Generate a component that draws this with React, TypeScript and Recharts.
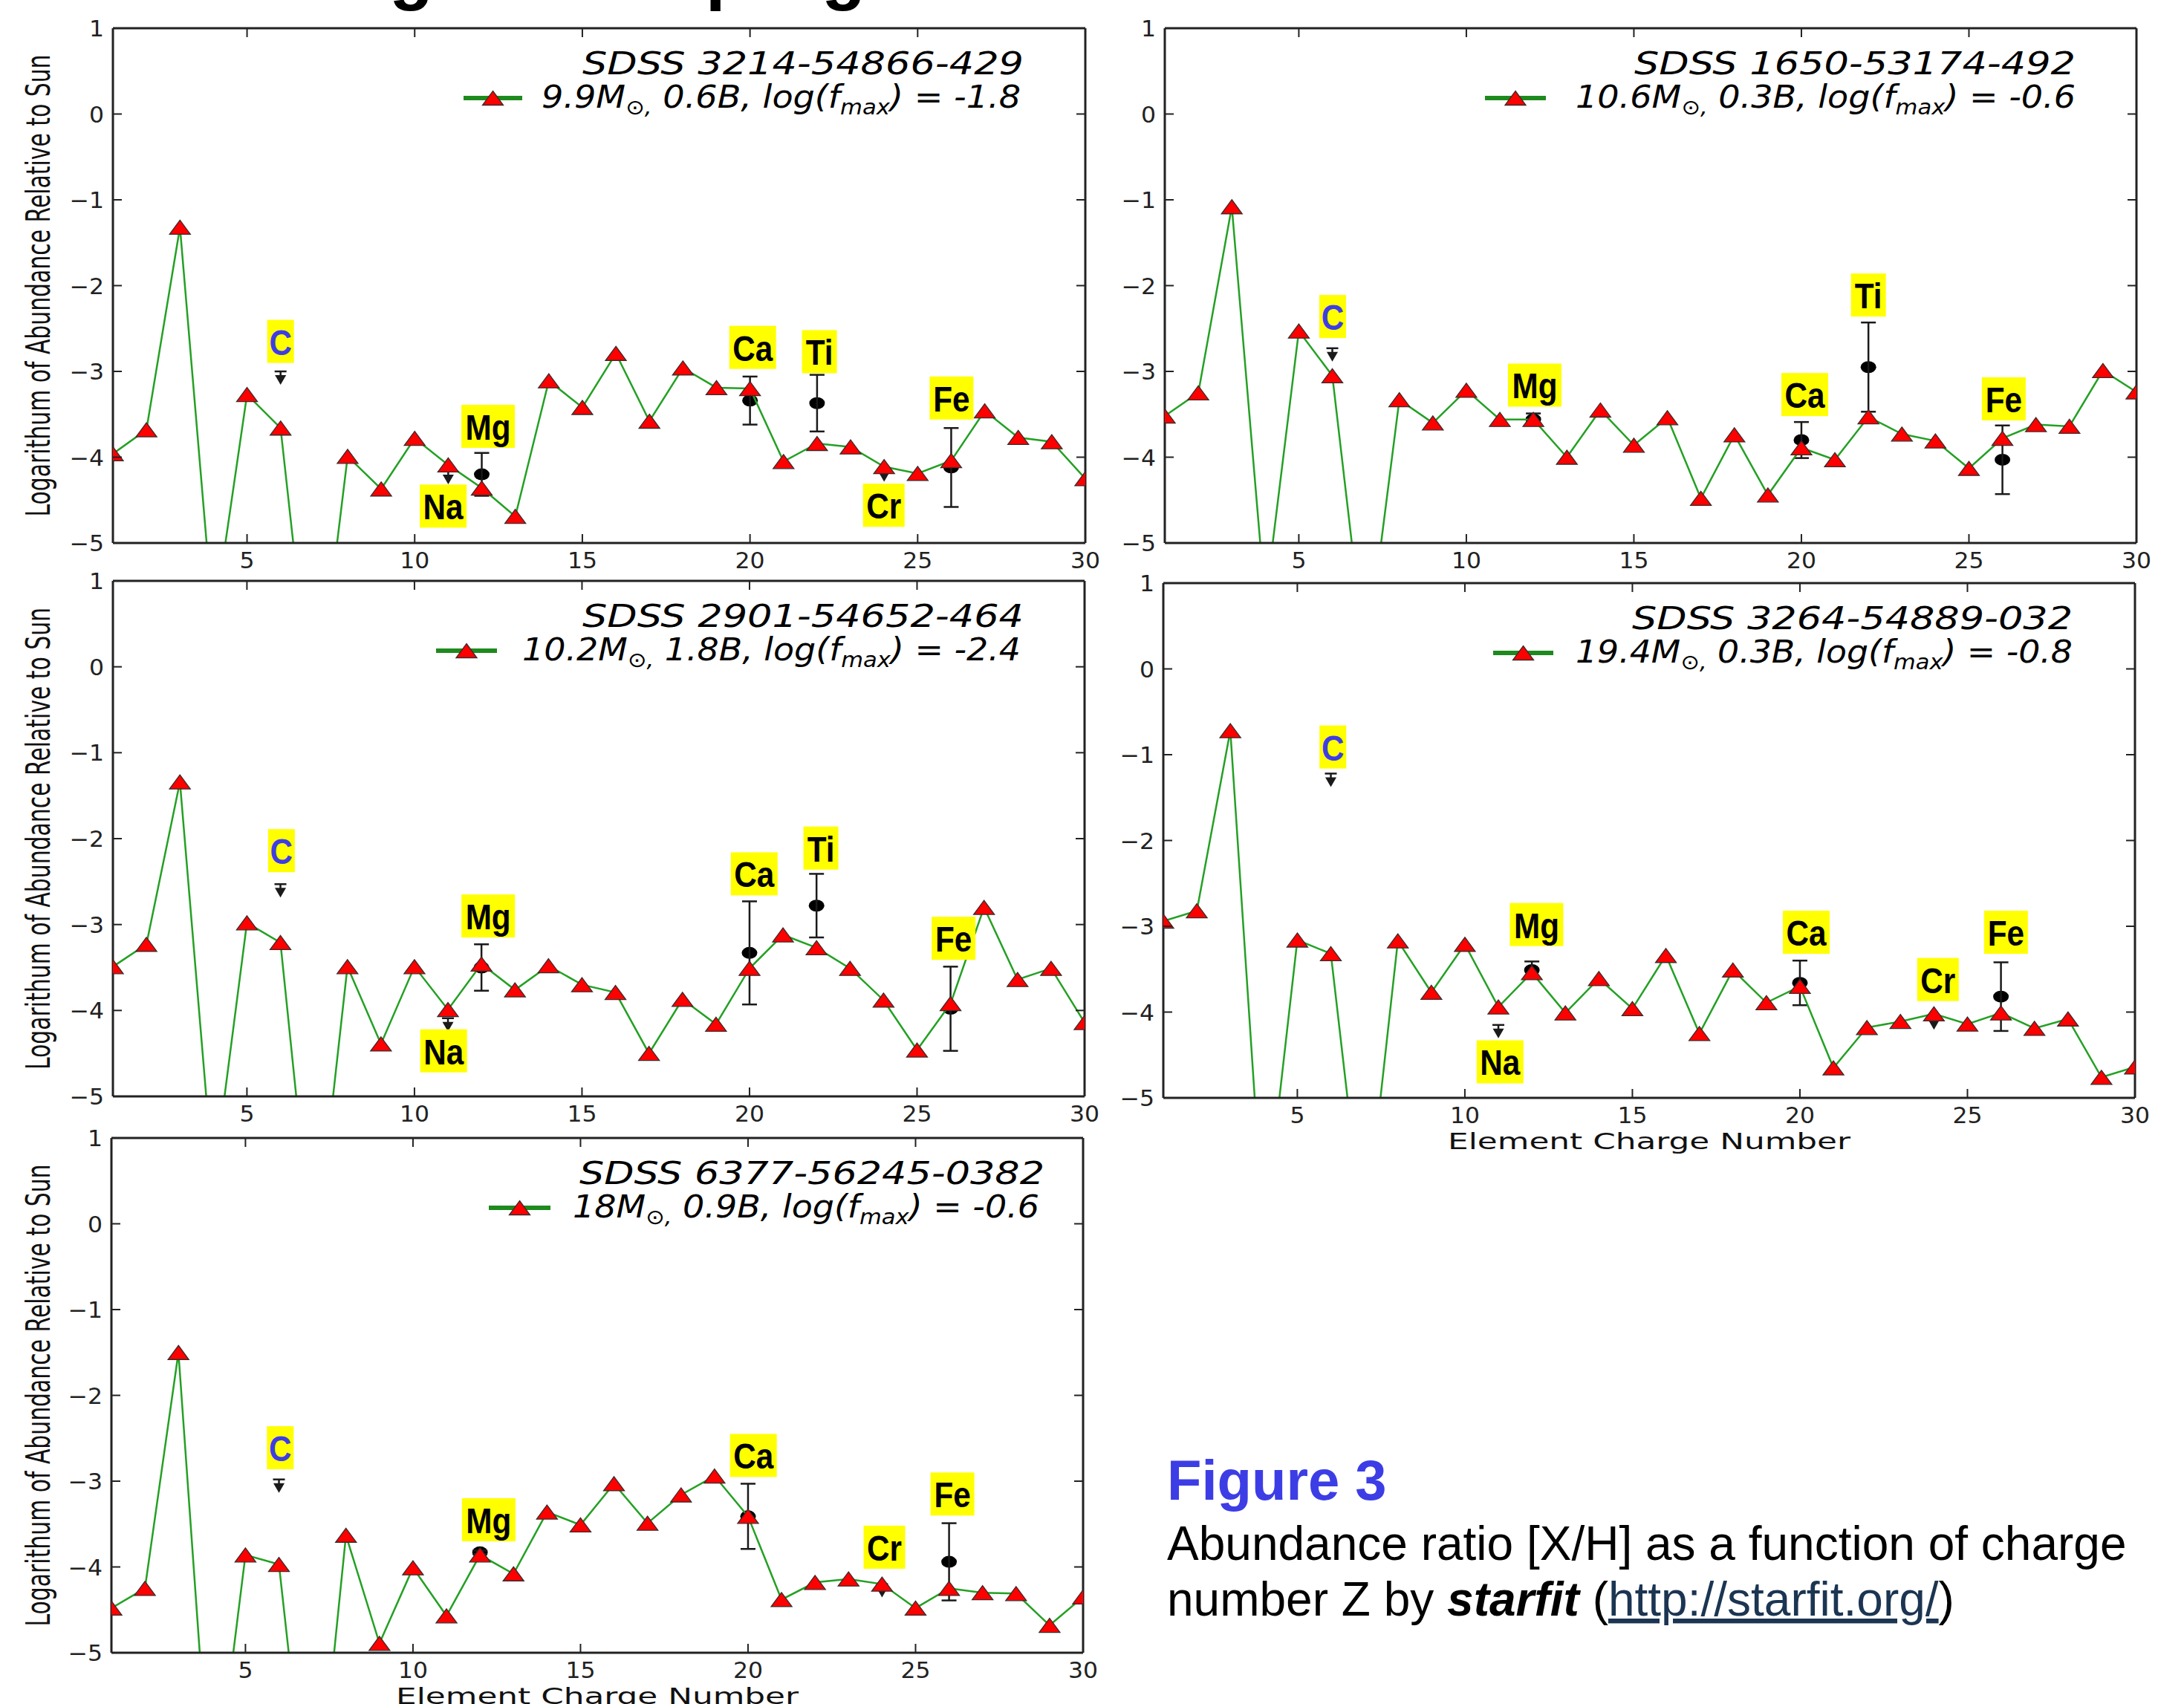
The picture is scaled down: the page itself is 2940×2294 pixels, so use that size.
import React from "react";
import { ComposedChart, Line, Scatter, XAxis, YAxis, ErrorBar } from "recharts";

// element charge number Z = 1..30
const Z = [1, 2, 3, 4, 5, 6, 7, 8, 9, 10, 11, 12, 13, 14, 15, 16, 17, 18, 19, 20, 21, 22, 23, 24, 25, 26, 27, 28, 29, 30];
const X_TICKS = [5, 10, 15, 20, 25, 30];
const Y_TICKS = [-5, -4, -3, -2, -1, 0, 1];

// starfit model abundances (log relative to sun), one value per Z
const model3214 = [-3.96, -3.68, -1.32, -5.95, -3.27, -3.66, -7.2, -3.99, -4.37, -3.78, -4.09, -4.36, -4.69, -3.11, -3.42, -2.79, -3.58, -2.96, -3.19, -3.2, -4.05, -3.84, -3.88, -4.11, -4.19, -4.04, -3.46, -3.77, -3.82, -4.25];
const model1650 = [-3.52, -3.25, -1.08, -5.7, -2.53, -3.05, -6.4, -3.33, -3.6, -3.22, -3.56, -3.56, -4.0, -3.45, -3.86, -3.54, -4.48, -3.74, -4.44, -3.89, -4.03, -3.53, -3.73, -3.81, -4.13, -3.78, -3.62, -3.64, -2.99, -3.24];
const model2901 = [-3.49, -3.23, -1.34, -6.0, -2.98, -3.21, -7.0, -3.49, -4.39, -3.49, -3.99, -3.46, -3.76, -3.48, -3.7, -3.79, -4.5, -3.87, -4.16, -3.51, -3.12, -3.27, -3.51, -3.88, -4.46, -3.92, -2.8, -3.64, -3.51, -4.14];
const model3264 = [-2.94, -2.82, -0.72, -6.6, -3.16, -3.32, -6.7, -3.17, -3.77, -3.21, -3.94, -3.54, -4.01, -3.61, -3.96, -3.34, -4.25, -3.51, -3.89, -3.7, -4.65, -4.18, -4.11, -4.02, -4.14, -4.01, -4.19, -4.08, -4.76, -4.64];
const model6377 = [-4.48, -4.25, -1.5, -7.0, -3.86, -3.97, -7.5, -3.63, -4.89, -4.01, -4.57, -3.86, -4.08, -3.36, -3.51, -3.03, -3.49, -3.16, -2.94, -3.41, -4.38, -4.18, -4.14, -4.2, -4.48, -4.25, -4.3, -4.31, -4.68, -4.35];

// measured abundances with errors
const obs3214 = [{ z: 12, v: -4.2, err: 0.25 }, { z: 20, v: -3.34, err: 0.28 }, { z: 22, v: -3.37, err: 0.33 }, { z: 26, v: -4.12, err: 0.46 }];
const obs1650 = [{ z: 12, v: -3.56, err: 0.07 }, { z: 20, v: -3.8, err: 0.21 }, { z: 22, v: -2.95, err: 0.52 }, { z: 26, v: -4.03, err: 0.4 }];
const obs2901 = [{ z: 12, v: -3.5, err: 0.27 }, { z: 20, v: -3.33, err: 0.6 }, { z: 22, v: -2.78, err: 0.37 }, { z: 26, v: -3.98, err: 0.49 }];
const obs3264 = [{ z: 12, v: -3.51, err: 0.1 }, { z: 20, v: -3.66, err: 0.26 }, { z: 26, v: -3.82, err: 0.4 }];
const obs6377 = [{ z: 12, v: -3.83, err: 0.02 }, { z: 20, v: -3.41, err: 0.38 }, { z: 26, v: -3.94, err: 0.45 }];

// upper limits
const lim3214 = [{ z: 6, v: -3.0 }, { z: 11, v: -4.16 }, { z: 24, v: -4.13 }];
const lim1650 = [{ z: 6, v: -2.73 }];
const lim2901 = [{ z: 6, v: -2.53 }, { z: 11, v: -4.09 }];
const lim3264 = [{ z: 6, v: -1.22 }, { z: 11, v: -4.15 }, { z: 24, v: -4.05 }];
const lim6377 = [{ z: 6, v: -2.98 }, { z: 24, v: -4.2 }];

// element tags (placed in data coordinates)
const tags3214 = [{ z: 6.0, v: -2.65, name: "C" }, { z: 12.19, v: -3.64, name: "Mg" }, { z: 10.85, v: -4.57, name: "Na" }, { z: 20.08, v: -2.72, name: "Ca" }, { z: 22.07, v: -2.77, name: "Ti" }, { z: 23.99, v: -4.56, name: "Cr" }, { z: 26.01, v: -3.31, name: "Fe" }];
const tags1650 = [{ z: 6.01, v: -2.36, name: "C" }, { z: 12.04, v: -3.16, name: "Mg" }, { z: 20.1, v: -3.27, name: "Ca" }, { z: 22.0, v: -2.11, name: "Ti" }, { z: 26.04, v: -3.32, name: "Fe" }];
const tags2901 = [{ z: 6.03, v: -2.14, name: "C" }, { z: 12.2, v: -2.9, name: "Mg" }, { z: 10.87, v: -4.47, name: "Na" }, { z: 20.14, v: -2.41, name: "Ca" }, { z: 22.13, v: -2.11, name: "Ti" }, { z: 26.09, v: -3.16, name: "Fe" }];
const tags3264 = [{ z: 6.06, v: -0.91, name: "C" }, { z: 12.14, v: -2.98, name: "Mg" }, { z: 11.05, v: -4.58, name: "Na" }, { z: 20.19, v: -3.07, name: "Ca" }, { z: 24.12, v: -3.62, name: "Cr" }, { z: 26.15, v: -3.07, name: "Fe" }];
const tags6377 = [{ z: 6.04, v: -2.61, name: "C" }, { z: 12.26, v: -3.45, name: "Mg" }, { z: 20.16, v: -2.7, name: "Ca" }, { z: 24.07, v: -3.77, name: "Cr" }, { z: 26.1, v: -3.15, name: "Fe" }];

// legend texts
const starNames = ["SDSS 3214-54866-429", "SDSS 1650-53174-492", "SDSS 2901-54652-464", "SDSS 3264-54889-032", "SDSS 6377-56245-0382"];
const fitMass = ["9.9", "10.6", "10.2", "19.4", "18"];
const fitB = ["0.6", "0.3", "1.8", "0.3", "0.9"];
const fitLogF = ["-1.8", "-0.6", "-2.4", "-0.8", "-0.6"];

// layout: plot rect [left, top, right, bottom] in page px
const BOXES = [
  [152, 38, 1461, 731],
  [1568, 38, 2876, 731],
  [152, 782, 1460, 1476],
  [1566, 785, 2874, 1478],
  [150, 1532, 1458, 2225],
];
// legend: title right/width, entry right/width, handle x1/x2
const LEG = [
  { tr: 1378, tw: 594, lr: 1374, lw: 645, h1: 624, h2: 703 },
  { tr: 2794, tw: 594, lr: 2794, lw: 673, h1: 1999, h2: 2081 },
  { tr: 1378, tw: 594, lr: 1374, lw: 671, h1: 587, h2: 669 },
  { tr: 2790, tw: 593, lr: 2790, lw: 669, h1: 2010, h2: 2091 },
  { tr: 1406, tw: 626, lr: 1399, lw: 628, h1: 658, h2: 741 },
];

const PANELS = [
  { model: model3214, obs: obs3214, lim: lim3214, tags: tags3214 },
  { model: model1650, obs: obs1650, lim: lim1650, tags: tags1650 },
  { model: model2901, obs: obs2901, lim: lim2901, tags: tags2901 },
  { model: model3264, obs: obs3264, lim: lim3264, tags: tags3264 },
  { model: model6377, obs: obs6377, lim: lim6377, tags: tags6377 },
];

const AX = "#222";
const GREEN = "#24a024";
const BLUE = "#3d3de6";
// axis sizes and outer margins (page px)
const YW_L = 60, YW_R = 10, XH_B = 40, XH_T = 10, PAD = 10;
const frame = { stroke: AX, strokeWidth: 3 };
const tickFont = { fontFamily: "DejaVu Sans", fontSize: 30, fill: AX };

const tri = (cx: number, cy: number) => `M${cx},${cy - 9.5}L${cx + 14},${cy + 9.5}L${cx - 14},${cy + 9.5}Z`;

const renderTri = (p: any) => {
  if (p.cx == null || p.cy == null || Number.isNaN(p.cy)) return <g key={`t${p.index}`} />;
  return <path key={`t${p.index}`} d={tri(p.cx, p.cy)} fill="#ff0000" stroke="#3a2a2a" strokeWidth={1.3} />;
};

const renderObs = (p: any) => <ellipse cx={p.cx} cy={p.cy} rx={10.5} ry={8} fill="#000" />;

const renderLimit = (p: any) => (
  <g>
    <line x1={p.cx - 8} x2={p.cx + 8} y1={p.cy} y2={p.cy} stroke="#1a1a1a" strokeWidth={2.5} />
    <line x1={p.cx} x2={p.cx} y1={p.cy} y2={p.cy + 8} stroke="#1a1a1a" strokeWidth={2.5} />
    <path d={`M${p.cx - 7.5},${p.cy + 5}L${p.cx + 7.5},${p.cy + 5}L${p.cx},${p.cy + 18}Z`} fill="#1a1a1a" />
  </g>
);

const TAG_W: Record<string, number> = { C: 36, Mg: 72, Na: 63, Ca: 63, Ti: 47, Cr: 56, Fe: 59 };
const renderTag = (p: any) => {
  const name = p.payload?.name ?? p.name;
  const w = TAG_W[name] ?? 60;
  return (
    <g>
      <rect x={p.cx - w / 2} y={p.cy - 29} width={w} height={58} fill="#ffff00" />
      <text
        transform={`translate(${p.cx},${p.cy + 18}) scale(0.88,1)`}
        textAnchor="middle"
        fontFamily="Liberation Sans, Arial, sans-serif"
        fontWeight="bold"
        fontSize={48}
        fill={name === "C" ? BLUE : "#000"}
      >
        {name}
      </text>
    </g>
  );
};

const BottomTick = (p: any) => (
  <g>
    <line x1={p.x} y1={p.y} x2={p.x} y2={p.y - 12} stroke={AX} strokeWidth={2} />
    <text transform={`translate(${p.x},${p.y + 34}) scale(1.05,1)`} textAnchor="middle" {...tickFont}>
      {p.payload.value}
    </text>
  </g>
);
const TopTick = (p: any) => <line x1={p.x} y1={p.y} x2={p.x} y2={p.y + 12} stroke={AX} strokeWidth={2} />;
const LeftTick = (p: any) => (
  <g>
    <line x1={p.x} y1={p.y} x2={p.x + 12} y2={p.y} stroke={AX} strokeWidth={2} />
    <text transform={`translate(${p.x - 12},${p.y + 11}) scale(1.05,1)`} textAnchor="end" {...tickFont}>
      {String(p.payload.value).replace("-", "\u2212")}
    </text>
  </g>
);
const RightTick = (p: any) => <line x1={p.x} y1={p.y} x2={p.x - 12} y2={p.y} stroke={AX} strokeWidth={2} />;

function Panel({ idx }: { idx: number }) {
  const [L, T, R, B] = BOXES[idx];
  const cfg = PANELS[idx];
  const w = R - L + YW_L + YW_R + 2 * PAD;
  const h = B - T + XH_B + XH_T + 2 * PAD;
  const rows = Z.map((z, i) => ({ z, v: cfg.model[i] }));
  return (
    <div style={{ position: "absolute", left: L - YW_L - PAD, top: T - XH_T - PAD, width: w, height: h }}>
      <ComposedChart width={w} height={h} data={rows} margin={{ top: PAD, right: PAD, bottom: PAD, left: PAD }}>
        <XAxis xAxisId="b" dataKey="z" type="number" domain={[1, 30]} ticks={X_TICKS} interval={0} allowDataOverflow height={XH_B} tickSize={0} tickMargin={0} tickLine={false} axisLine={frame} tick={BottomTick} />
        <XAxis xAxisId="t" orientation="top" dataKey="z" type="number" domain={[1, 30]} ticks={X_TICKS} interval={0} allowDataOverflow height={XH_T} tickSize={0} tickMargin={0} tickLine={false} axisLine={frame} tick={TopTick} />
        <YAxis yAxisId="l" type="number" domain={[-5, 1]} ticks={Y_TICKS} interval={0} allowDataOverflow width={YW_L} tickSize={0} tickMargin={0} tickLine={false} axisLine={frame} tick={LeftTick} />
        <YAxis yAxisId="r" orientation="right" type="number" domain={[-5, 1]} ticks={Y_TICKS} interval={0} allowDataOverflow width={YW_R} tickSize={0} tickMargin={0} tickLine={false} axisLine={frame} tick={RightTick} />
        <Scatter xAxisId="b" yAxisId="l" data={cfg.obs} dataKey="v" shape={renderObs} isAnimationActive={false} zIndex={300}>
          <ErrorBar dataKey="err" direction="y" width={10} strokeWidth={2.5} stroke="#1a1a1a" />
        </Scatter>
        <Scatter xAxisId="b" yAxisId="l" data={cfg.lim} dataKey="v" shape={renderLimit} isAnimationActive={false} zIndex={300} />
        <Line xAxisId="b" yAxisId="l" dataKey="v" type="linear" stroke={GREEN} strokeWidth={2.5} dot={renderTri} activeDot={false} isAnimationActive={false} />
        <Scatter xAxisId="b" yAxisId="l" data={cfg.tags} dataKey="v" shape={renderTag} isAnimationActive={false} zIndex={700} />
      </ComposedChart>
    </div>
  );
}

function LegendBlock({ idx }: { idx: number }) {
  const lg = LEG[idx];
  const top = BOXES[idx][1];
  const hy = top + 94;
  return (
    <g fontFamily="DejaVu Sans" fontStyle="italic" fill="#000" style={{ whiteSpace: "pre" }}>
      <text x={lg.tr} y={top + 62} fontSize={42} textAnchor="end" textLength={lg.tw} lengthAdjust="spacingAndGlyphs">
        {starNames[idx]}
      </text>
      <line x1={lg.h1} x2={lg.h2} y1={hy} y2={hy} stroke="#1e8a1e" strokeWidth={6} />
      <path d={tri((lg.h1 + lg.h2) / 2, hy)} fill="#ff0000" stroke="#3a2a2a" strokeWidth={1.3} />
      <text x={lg.lr} y={top + 107} fontSize={42} textAnchor="end" textLength={lg.lw} lengthAdjust="spacingAndGlyphs">
        {`${fitMass[idx]}M`}
        <tspan fontSize={28} dy={9}>{"\u2299,"}</tspan>
        <tspan dy={-9}>{` ${fitB[idx]}B, log(f`}</tspan>
        <tspan fontSize={28} dy={9}>max</tspan>
        <tspan dy={-9}>{`) = ${fitLogF[idx]}`}</tspan>
      </text>
    </g>
  );
}

const Y_LABEL = "Logarithum of Abundance Relative to Sun";
const X_LABEL = "Element Charge Number";

function Overlay() {
  const yLabelPanels = [0, 2, 4];
  const xLabelPanels = [3, 4];
  return (
    <svg width={2940} height={2294} style={{ position: "absolute", left: 0, top: 0, pointerEvents: "none" }}>
      <text x={373} y={-5} fontFamily="Liberation Sans, Arial, sans-serif" fontWeight="bold" fontSize={97} fill="#000">
        Single stars progenitor
      </text>
      {yLabelPanels.map((i) => {
        const cy = (BOXES[i][1] + BOXES[i][3]) / 2;
        return (
          <text key={`yl${i}`} transform={`translate(67,${cy}) rotate(-90)`} textAnchor="middle" fontFamily="DejaVu Sans" fontSize={45} fill="#111" textLength={622} lengthAdjust="spacingAndGlyphs">
            {Y_LABEL}
          </text>
        );
      })}
      {xLabelPanels.map((i) => {
        const cx = (BOXES[i][0] + BOXES[i][2]) / 2;
        return (
          <text key={`xl${i}`} x={cx} y={BOXES[i][3] + 69} textAnchor="middle" fontFamily="DejaVu Sans" fontSize={31} fill="#111" textLength={542} lengthAdjust="spacingAndGlyphs">
            {X_LABEL}
          </text>
        );
      })}
      {BOXES.map((_, i) => (
        <LegendBlock key={`lg${i}`} idx={i} />
      ))}
      <text x={1571} y={2019} fontFamily="Liberation Sans, Arial, sans-serif" fontWeight="bold" fontSize={76} fill={BLUE}>
        Figure 3
      </text>
      <text x={1571} y={2100} fontFamily="Liberation Sans, Arial, sans-serif" fontSize={64} fill="#000">
        Abundance ratio [X/H] as a function of charge
      </text>
      <text x={1571} y={2175} fontFamily="Liberation Sans, Arial, sans-serif" fontSize={64} fill="#000" style={{ whiteSpace: "pre" }}>
        {"number Z by "}
        <tspan fontWeight="bold" fontStyle="italic">starfit</tspan>
        {" ("}
        <tspan fill="#1b3552" textDecoration="underline">http://starfit.org/</tspan>
        {")"}
      </text>
    </svg>
  );
}

export default function App() {
  return (
    <div style={{ position: "absolute", left: 0, top: 0, width: 2940, height: 2294, overflow: "hidden", background: "#fff" }}>
      {PANELS.map((_, i) => (
        <Panel key={i} idx={i} />
      ))}
      <Overlay />
    </div>
  );
}
